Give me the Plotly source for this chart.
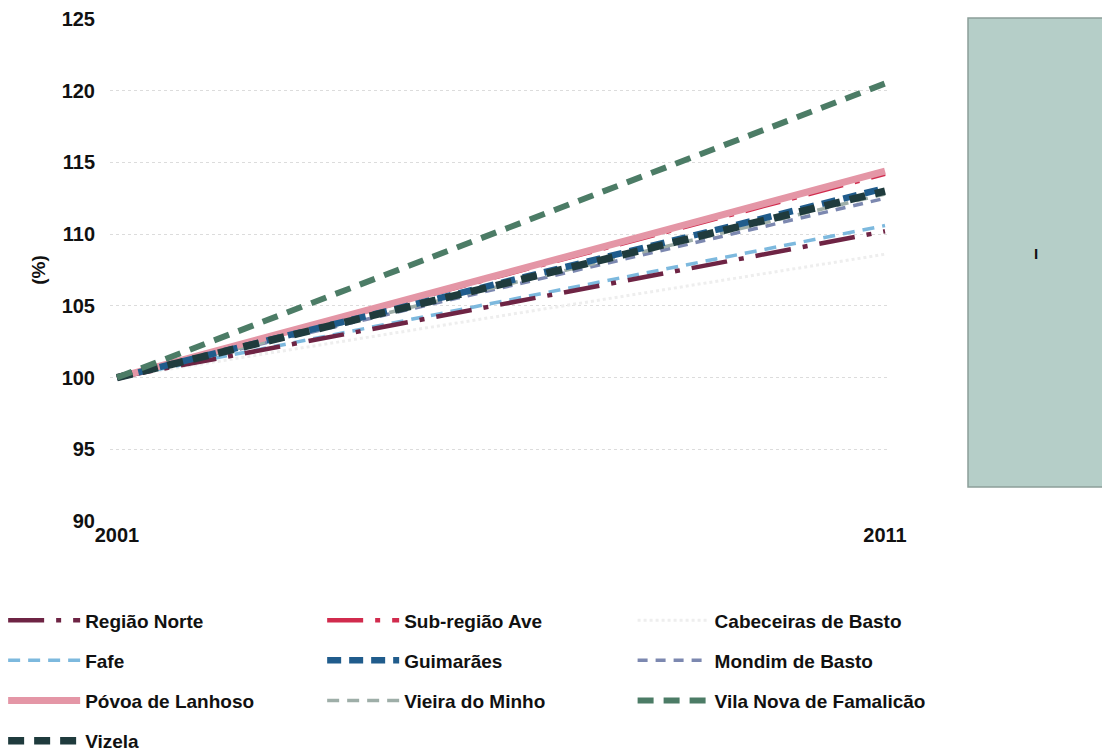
import plotly.graph_objects as go

years = [2001, 2011]
regiao_norte = [100, 110.2]
sub_regiao_ave = [100, 114.2]
cabeceiras_de_basto = [100, 108.6]
fafe = [100, 110.6]
guimaraes = [100, 113.2]
mondim_de_basto = [100, 112.5]
povoa_de_lanhoso = [100, 114.4]
vieira_do_minho = [100, 112.8]
vila_nova_de_famalicao = [100, 120.5]
vizela = [100, 113.0]

y_ticks = [90, 95, 100, 105, 110, 115, 120, 125]
x_ticks = [2001, 2011]

series = [
    # name, values, color, width, dash, legend
    ("Cabeceiras de Basto", cabeceiras_de_basto, "#eeeeee", 3, "dot", "legend3"),
    ("Fafe", fafe, "#7db9de", 3.5, "12px,8px", "legend"),
    ("Região Norte", regiao_norte, "#6e2444", 4.5, "36px,12px,5px,12px", "legend"),
    ("Mondim de Basto", mondim_de_basto, "#7c88b0", 3.5, "10px,8px", "legend3"),
    ("Vieira do Minho", vieira_do_minho, "#9eaea8", 3.5, "12px,8px", "legend2"),
    ("Sub-região Ave", sub_regiao_ave, "#d12b4d", 4.5, "36px,12px,5px,12px", "legend2"),
    ("Póvoa de Lanhoso", povoa_de_lanhoso, "#e496a6", 7, "solid", "legend"),
    ("Guimarães", guimaraes, "#205c8c", 6.5, "14px,8px", "legend2"),
    ("Vizela", vizela, "#1f3b3d", 7.5, "16px,10px", "legend"),
    ("Vila Nova de Famalicão", vila_nova_de_famalicao, "#4c7c66", 6, "16px,10px", "legend3"),
]

order = {
    "Região Norte": 1, "Fafe": 2, "Póvoa de Lanhoso": 3, "Vizela": 4,
    "Sub-região Ave": 1, "Guimarães": 2, "Vieira do Minho": 3,
    "Cabeceiras de Basto": 1, "Mondim de Basto": 2, "Vila Nova de Famalicão": 3,
}

fig = go.Figure()
for name, vals, color, width, dash, leg in series:
    fig.add_trace(go.Scatter(
        x=years, y=vals, mode="lines", name=name,
        line=dict(color=color, width=width, dash=dash),
        legend=leg, legendgroup=name, legendrank=order[name],
        hoverinfo="skip",
    ))

font_family = "Liberation Sans, Arial, sans-serif"
legend_common = dict(
    orientation="v", traceorder="grouped", tracegroupgap=12.5,
    font=dict(family=font_family, size=19, color="#111111", weight="bold"),
    itemwidth=72, bgcolor="rgba(0,0,0,0)", xanchor="left", yanchor="top",
)

# plot area: 780 x 502 px
fig.update_layout(
    width=1110, height=753,
    margin=dict(l=102, r=228, t=11, b=240, autoexpand=False),
    paper_bgcolor="white", plot_bgcolor="white",
    font=dict(family=font_family, size=19, color="#111111"),
    xaxis=dict(
        range=[2000.909, 2011.065], tickvals=x_ticks,
        showgrid=False, zeroline=False, showline=False, automargin=False,
        tickfont=dict(size=20, weight="bold"), ticklabelstandoff=0,
    ),
    yaxis=dict(
        range=[90, 125], tickvals=y_ticks,
        showgrid=True, gridcolor="#dcdcdc", griddash="dot", gridwidth=1,
        zeroline=False, showline=False, automargin=False,
        tickfont=dict(size=20, weight="bold"),
        ticklabelstandoff=14,
        title=dict(text="(%)", font=dict(size=19, weight="bold"), standoff=10),
    ),
    legend=dict(x=-0.137, y=-0.16, **legend_common),
    legend2=dict(x=0.272, y=-0.16, **legend_common),
    legend3=dict(x=0.670, y=-0.16, **legend_common),
    shapes=[dict(
        type="rect", xref="paper", yref="paper",
        x0=(968 - 110) / 780, x1=(1108 - 110) / 780,
        y0=(521 - 487) / 502, y1=(521 - 18) / 502,
        fillcolor="#b5cec8", line=dict(color="#8c9f99", width=1.5),
        layer="below",
    )],
    annotations=[dict(
        xref="paper", yref="paper",
        x=(1040 - 110) / 780, y=(521 - 253) / 502,
        text="I", showarrow=False,
        font=dict(size=15, color="#111111", family=font_family, weight="bold"),
    )],
)

fig.write_html("out.html")
